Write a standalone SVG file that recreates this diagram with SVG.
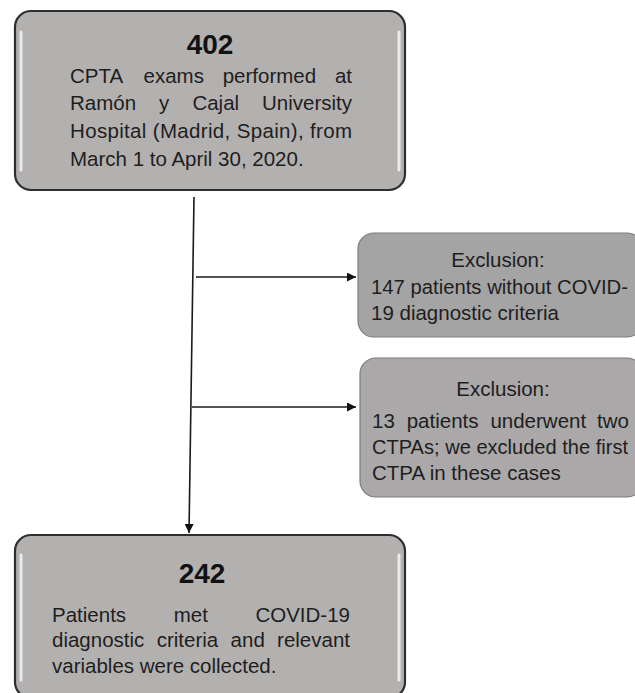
<svg xmlns="http://www.w3.org/2000/svg" width="635" height="693" viewBox="0 0 635 693">
  <style>
    .main { fill: #b3b0b0; stroke: #2e2e2e; stroke-width: 2.2; }
    .excl { fill: #a5a4a4; stroke: #7c7c7c; stroke-width: 1.2; }
    .excl2 { fill: #aaa8a8; stroke: #7c7c7c; stroke-width: 1.2; }
    .hl { fill: none; stroke: #ffffff; stroke-opacity: 0.75; stroke-width: 3; stroke-linecap: round; }
    .t { font-family: "Liberation Sans", Arial, sans-serif; font-size: 20.5px; fill: #1e1e1e; }
    .num { font-family: "Liberation Sans", Arial, sans-serif; font-size: 28px; font-weight: bold; fill: #111111; text-anchor: middle; }
    .e { text-anchor: end; }
    .m { text-anchor: middle; }
    .conn { stroke: #1a1a1a; stroke-width: 1.6; fill: none; }
  </style>
  <defs>
    <marker id="arr" viewBox="0 0 10 10" refX="10" refY="5" markerWidth="10" markerHeight="9" markerUnits="userSpaceOnUse" orient="auto">
      <path d="M0,0 L10,5 L0,10 z" fill="#111111"/>
    </marker>
  </defs>

  <g id="connectors">
    <path class="conn" d="M194,197 L189,533" marker-end="url(#arr)"/>
    <path class="conn" d="M196,277 L356,277" marker-end="url(#arr)"/>
    <path class="conn" d="M192,407 L356,407" marker-end="url(#arr)"/>
  </g>

  <g id="node-402">
    <rect class="main" x="15" y="11" width="390" height="179" rx="16" ry="16"/>
    <path class="hl" d="M21,32 L21,170"/>
    <path class="hl" d="M399,32 L399,170"/>
    <text class="num" x="210" y="54">402</text>
    <text class="t" x="70" y="83">CPTA</text>
    <text class="t" x="143.5" y="83">exams</text>
    <text class="t" x="222.7" y="83">performed</text>
    <text class="t e" x="352" y="83">at</text>
    <text class="t" x="70" y="110">Ramón</text>
    <text class="t" x="159" y="110">y</text>
    <text class="t" x="192.4" y="110">Cajal</text>
    <text class="t e" x="352" y="110">University</text>
    <text class="t" x="70" y="138" textLength="282" lengthAdjust="spacing">Hospital (Madrid, Spain), from</text>
    <text class="t" x="70" y="166">March 1 to April 30, 2020.</text>
  </g>

  <g id="node-excl1">
    <rect class="excl" x="358" y="233" width="285" height="104" rx="16" ry="16"/>
    <text class="t m" x="498" y="267">Exclusion:</text>
    <text class="t" x="371" y="294" textLength="257" lengthAdjust="spacingAndGlyphs">147 patients without COVID-</text>
    <text class="t" x="371" y="320">19 diagnostic criteria</text>
  </g>

  <g id="node-excl2">
    <rect class="excl2" x="360" y="358" width="283" height="139" rx="16" ry="16"/>
    <text class="t m" x="503" y="396">Exclusion:</text>
    <text class="t" x="372" y="428">13</text>
    <text class="t" x="406.7" y="428">patients</text>
    <text class="t" x="490.4" y="428">underwent</text>
    <text class="t e" x="629" y="428">two</text>
    <text class="t" x="372" y="454" textLength="256" lengthAdjust="spacingAndGlyphs">CTPAs; we excluded the first</text>
    <text class="t" x="372" y="480">CTPA in these cases</text>
  </g>

  <g id="node-242">
    <rect class="main" x="15" y="535" width="390" height="163" rx="16" ry="16"/>
    <path class="hl" d="M21,555 L21,680"/>
    <path class="hl" d="M399,555 L399,680"/>
    <text class="num" x="202" y="583">242</text>
    <text class="t" x="52" y="622">Patients</text>
    <text class="t" x="173.7" y="622">met</text>
    <text class="t e" x="350" y="622">COVID-19</text>
    <text class="t" x="52" y="647">diagnostic</text>
    <text class="t" x="156.7" y="647">criteria</text>
    <text class="t" x="230.6" y="647">and</text>
    <text class="t e" x="350" y="647">relevant</text>
    <text class="t" x="52" y="673">variables were collected.</text>
  </g>
</svg>
